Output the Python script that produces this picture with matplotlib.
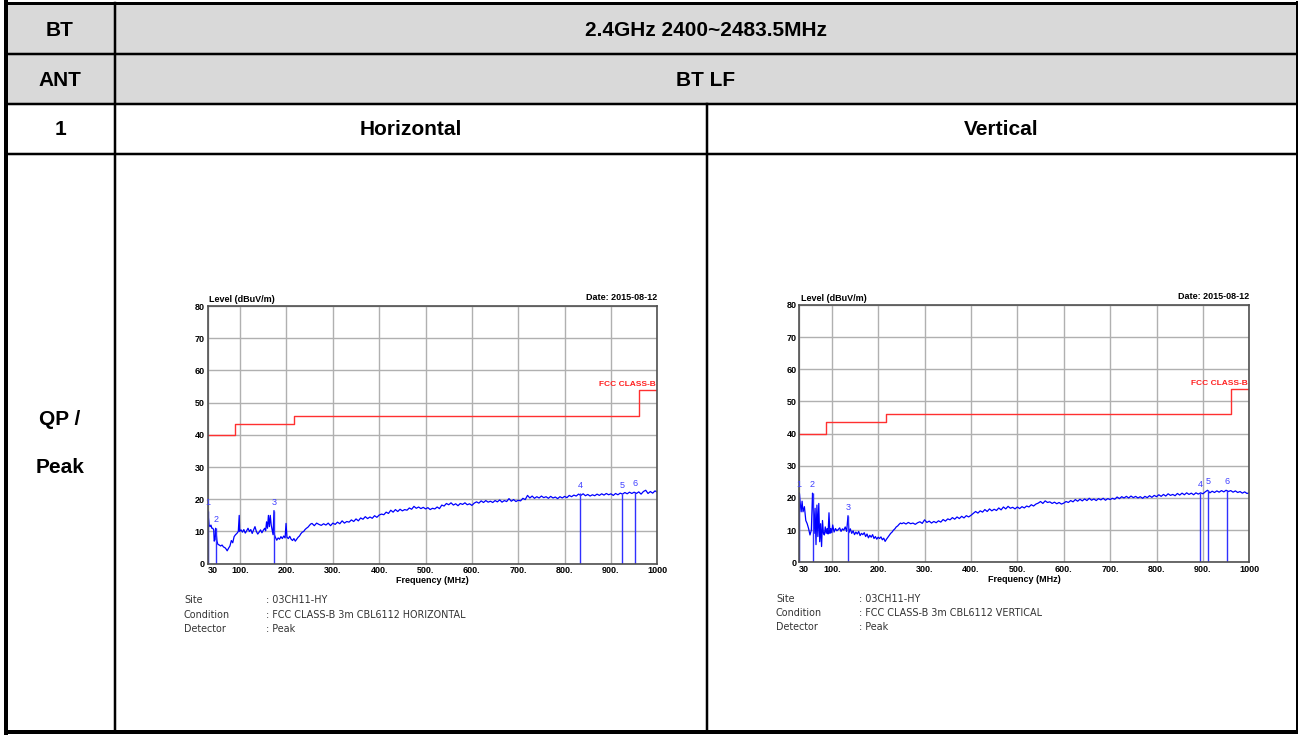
import matplotlib.pyplot as plt
import numpy as np
from matplotlib.patches import Rectangle

# table text
row_heads = ["BT", "ANT", "1", "QP /", "Peak"]
band = "2.4GHz 2400~2483.5MHz"
ant = "BT LF"
pol = ["Horizontal", "Vertical"]

# FCC class B limit (3 m)
lim_f = [30, 88, 216, 960, 1000]
lim_l = [40, 43.5, 46, 54, 54]

x_ticks = [30, 100, 200, 300, 400, 500, 600, 700, 800, 900, 1000]
x_ticklabels = ["30", "100.", "200.", "300.", "400.", "500.", "600.", "700.", "800.", "900.", "1000"]

# horizontal trace, low band (explicit points) + 255..1000 MHz every 5 MHz
h_lo_f = [30, 31, 33, 35, 37, 39, 41, 43, 44, 46, 47, 48, 50, 52, 55, 58, 61, 64, 67, 70,
          72, 75, 78, 81, 84, 87, 90, 93, 96, 98, 99, 102, 105, 108, 111, 114, 117, 120, 123, 126,
          129, 132, 135, 138, 141, 144, 147, 150, 153, 155, 157, 159, 161, 163, 165, 167, 169, 171, 173, 174,
          176, 179, 182, 185, 188, 191, 194, 197, 199, 201, 204, 207, 210, 213, 216, 219, 222, 225, 228, 231,
          234, 237, 240, 243, 246, 249, 252]
h_lo_l = [16.5, 15, 12, 11.5, 12, 11, 11, 10.5, 7, 7.5, 11, 10, 7, 6, 5.8, 5.5, 5.8, 5.2, 5, 4.5,
          4, 4.8, 5.5, 7.2, 6.5, 8.4, 9, 9.4, 10, 15, 10, 10.5, 9.8, 10.6, 9.5, 10.2, 11, 10, 10.6, 9.4,
          10.5, 11.5, 10, 9.2, 9.8, 10.5, 9.6, 10.4, 11, 10.2, 13, 11, 15, 11.5, 15, 12, 10.5, 9, 16.5, 9,
          8.2, 7.3, 8, 7.6, 8.4, 7.8, 8.6, 8, 12.5, 8.2, 7.8, 8.5, 7.6, 7.2, 7.8, 7, 7.6, 8.2, 8.6, 9.3,
          9.8, 10, 10.6, 11, 11.3, 11.8, 12.3]
h_hi_l = [12.5, 11.8, 12.6, 12.2, 11.9, 12.4, 12, 12.6, 11.8, 12.6, 12.2, 12.9, 12.4, 13.3, 12.6, 13.1, 12.9, 13.6, 13.1, 13.9,
          13.3, 14.2, 13.8, 14.6, 14, 14.5, 14.1, 14.9, 14.4, 15.1, 15.4, 15.2, 16, 15.6, 16.6, 16, 16.8, 16.2, 16.9, 16.4,
          16.8, 16.6, 17.3, 16.9, 17.8, 17.2, 17.6, 17.1, 17.5, 17, 17.4, 16.8, 17.2, 17, 17.6, 17.1, 18.2, 17.9, 18.7, 18.3,
          18.9, 18.2, 18.6, 18, 18.7, 18.4, 18.9, 18.3, 18.6, 18.1, 18.8, 19.2, 18.8, 19.5, 19, 19.6, 19.1, 19.4, 19, 19.6,
          19.2, 19.8, 19.1, 19.6, 19.3, 20.2, 19.4, 19.9, 19.3, 19.7, 19.5, 20.3, 19.9, 21.2, 20.4, 21, 20.3, 20.8, 20.4, 21,
          20.5, 20.8, 20.3, 20.9, 20.4, 20.7, 20.2, 20.8, 20.4, 20.9, 20.5, 21.2, 20.8, 21.3, 21, 21.6, 21.2, 21.7, 21.1, 21.5,
          21, 21.4, 21.1, 21.6, 21.2, 21.7, 21.3, 21.8, 21.4, 21.7, 21.2, 21.8, 21.4, 21.9, 21.6, 22.1, 21.7, 22.2, 21.8, 22.2,
          21.8, 22.3, 21.6, 22.4, 22.8, 21.8, 22.4, 21.9, 22.6, 22.2]
h_mk_f = [30, 47, 173, 833, 924, 952]
h_mk_l = [16.5, 11, 16.5, 21.8, 21.7, 22.2]

# vertical trace
v_lo_f = [30, 32, 34, 36, 38, 41, 44, 47, 50, 53, 56, 58.5, 60, 62, 64, 66, 68, 70, 72, 74,
          76, 78, 80, 82, 84, 86, 88, 90, 92, 94, 96, 98, 100, 102, 105, 108, 111, 114, 117, 120,
          123, 126, 129, 132, 135, 137, 140, 143, 146, 149, 152, 155, 158, 161, 164, 167, 170, 173, 176, 179,
          182, 185, 188, 191, 194, 197, 200, 203, 206, 209, 212, 215, 218, 221, 224, 227, 230, 233, 236, 239,
          242, 245, 248, 251]
v_lo_l = [21.5, 18.3, 15.7, 19, 15.7, 17.3, 13, 12, 10.5, 8.5, 10, 21.5, 18.3, 9, 16.8, 5.5, 17.8, 8, 18.3, 6.4,
          12, 4.9, 13, 9, 8.5, 11, 9, 10.5, 8.8, 15.4, 9, 10.5, 9.2, 11.6, 9.4, 10.5, 9.8, 10.2, 10.7, 9.6,
          10.4, 10, 11, 9.6, 14.5, 9.2, 10.4, 9, 9.8, 8.6, 9.4, 8.8, 9.6, 8.3, 9, 8.6, 9.2, 8, 8.8, 7.6,
          8.4, 7.8, 8.6, 7.4, 8, 7.2, 7.8, 7.4, 7.9, 7, 7.5, 6.5, 7.2, 7.8, 8.4, 9, 9.4, 10, 10.4, 11,
          11.3, 11.8, 12.2, 12]
v_hi_l = [12.3, 11.9, 12.4, 12, 12.2, 11.8, 12.3, 12.6, 12.1, 13.2, 12.4, 12.8, 12.2, 12.7, 12.3, 12.9, 12.5, 13.3, 12.8, 13.5,
          13.2, 13.9, 13.4, 14.1, 13.6, 14.3, 13.8, 14.5, 14.1, 14.6, 15.2, 15.8, 15.3, 16, 15.6, 16.4, 15.8, 16.6, 16, 16.5,
          16.1, 16.9, 16.3, 17.2, 16.6, 17.4, 16.8, 17.1, 16.6, 17.2, 16.7, 17.3, 16.9, 17.5, 17.2, 17.9, 17.5, 18.1, 18.4, 18.9,
          18.3, 19.1, 18.6, 18.8, 18.3, 18.7, 18.2, 18.6, 18.1, 18.4, 18.9, 18.6, 19.2, 18.8, 19.5, 19, 19.6, 19.1, 19.7, 19.2,
          19.9, 19.3, 19.7, 19.2, 19.8, 19.4, 19.9, 19.3, 19.8, 19.5, 19.9, 19.6, 20.3, 19.8, 20.4, 20, 20.5, 20, 20.6, 20.1,
          20.5, 20, 20.4, 19.9, 20.5, 20.1, 20.7, 20.2, 20.8, 20.4, 21, 20.5, 21.1, 20.6, 21.3, 20.8, 21.1, 20.7, 21.4, 20.9,
          21.5, 21, 21.6, 21.1, 21.5, 21, 21.6, 21.2, 21.6, 21.3, 21.9, 22.4, 21.6, 22.1, 21.7, 22.2, 21.8, 22.3, 21.9, 22.4,
          22, 22.3, 21.8, 22.2, 21.7, 22, 21.5, 21.9, 21.4, 21.6]
v_mk_f = [30, 58.5, 135, 894, 912, 951]
v_mk_l = [21.5, 21.5, 14.5, 21.5, 22.4, 22.4]

W, H = 1298, 735
fig = plt.figure(figsize=(W / 100, H / 100), dpi=100)
bg = fig.add_axes([0, 0, 1, 1])
bg.set_xlim(0, W)
bg.set_ylim(H, 0)
bg.axis("off")

# table
bg.add_patch(Rectangle((6, 3), 1290, 101, facecolor="#d9d9d9", edgecolor="none"))
k = 0.72  # px -> pt
for y in [54, 104, 154]:
    bg.plot([6, 1297], [y, y], color="black", lw=2.5 * k)
bg.plot([115, 115], [3, 732], color="black", lw=2.5 * k)
bg.plot([707, 707], [104, 732], color="black", lw=2.5 * k)
bg.plot([6, 1297], [3, 3], color="black", lw=3 * k)
bg.plot([6, 1297], [731.5, 731.5], color="black", lw=4 * k)
bg.plot([6, 6], [2, 733], color="black", lw=4 * k)
bg.plot([1296.5, 1296.5], [2, 733], color="black", lw=2 * k)

tkw = dict(fontsize=15, fontweight="bold", family="Liberation Sans", ha="center", va="center")
bg.text(60, 30, row_heads[0], **tkw)
bg.text(60, 80, row_heads[1], **tkw)
bg.text(60, 129, row_heads[2], **tkw)
bg.text(60, 419, row_heads[3], **tkw)
bg.text(60, 467, row_heads[4], **tkw)
bg.text(706, 30, band, **tkw)
bg.text(706, 80, ant, **tkw)
bg.text(411, 129, pol[0], **tkw)
bg.text(1001, 129, pol[1], **tkw)


def px_axes(l, t, r, b):
    return fig.add_axes([l / W, 1 - b / H, (r - l) / W, (b - t) / H])


def draw_emi(ax, lo_f, lo_l, hi_l, mk_f, mk_l):
    f = np.concatenate([lo_f, 255 + 5 * np.arange(len(hi_l))])
    lv = np.concatenate([lo_l, hi_l])
    ax.set_xlim(30, 1000)
    ax.set_ylim(0, 80)
    ax.set_axisbelow(True)
    ax.grid(True, color="#b0b0b0", lw=1)
    ax.step(lim_f, lim_l, where="post", color="#ff3030", lw=1)
    ax.plot(f, lv, color="#0000ff", lw=0.9)
    ax.vlines(mk_f, 0, mk_l, color="#3030ff", lw=1)
    for i, (mf, ml) in enumerate(zip(mk_f, mk_l)):
        ax.text(mf, ml + 1.2, str(i + 1), color="#4040ff", fontsize=6.5,
                ha="center", va="bottom", family="Liberation Sans")
    ax.text(997, 55.7, "FCC CLASS-B", color="#ff2020", fontsize=6, fontweight="bold",
            ha="right", va="center", family="Liberation Sans")
    ax.set_xticks(x_ticks)
    ax.set_xticklabels(x_ticklabels)
    ax.set_yticks(range(0, 81, 10))
    ax.tick_params(length=0, labelsize=6.5, pad=2)
    for lbl in ax.get_xticklabels() + ax.get_yticklabels():
        lbl.set_fontweight("bold")
        lbl.set_family("Liberation Sans")
    ax.get_xticklabels()[0].set_ha("left")
    for s in ax.spines.values():
        s.set_color("#505050")
        s.set_linewidth(1.2)
    fkw = dict(fontsize=6.5, fontweight="bold", family="Liberation Sans", transform=ax.transAxes)
    ax.text(0.004, 1.008, "Level (dBuV/m)", ha="left", va="bottom", **fkw)
    ax.text(1.0, 1.015, "Date: 2015-08-12", ha="right", va="bottom", **fkw)
    ax.text(0.5, -0.065, "Frequency (MHz)", ha="center", va="center", **fkw)


ax1 = px_axes(207.7, 306, 657.3, 563.7)
draw_emi(ax1, h_lo_f, h_lo_l, h_hi_l, h_mk_f, h_mk_l)
ax2 = px_axes(799.3, 305, 1249.3, 562.3)
draw_emi(ax2, v_lo_f, v_lo_l, v_hi_l, v_mk_f, v_mk_l)

# info lines under the charts
info_keys = ["Site", "Condition", "Detector"]
h_info = [": 03CH11-HY", ": FCC CLASS-B 3m CBL6112 HORIZONTAL", ": Peak"]
v_info = [": 03CH11-HY", ": FCC CLASS-B 3m CBL6112 VERTICAL", ": Peak"]
ikw = dict(fontsize=6.9, color="#333333", family="DejaVu Sans", va="center")
for i, key in enumerate(info_keys):
    bg.text(184, 600 + 14.5 * i, key, **ikw)
    bg.text(266, 600 + 14.5 * i, h_info[i], **ikw)
    bg.text(776, 599 + 14.2 * i, key, **ikw)
    bg.text(859, 599 + 14.2 * i, v_info[i], **ikw)

fig.savefig("out.png", dpi=100)
